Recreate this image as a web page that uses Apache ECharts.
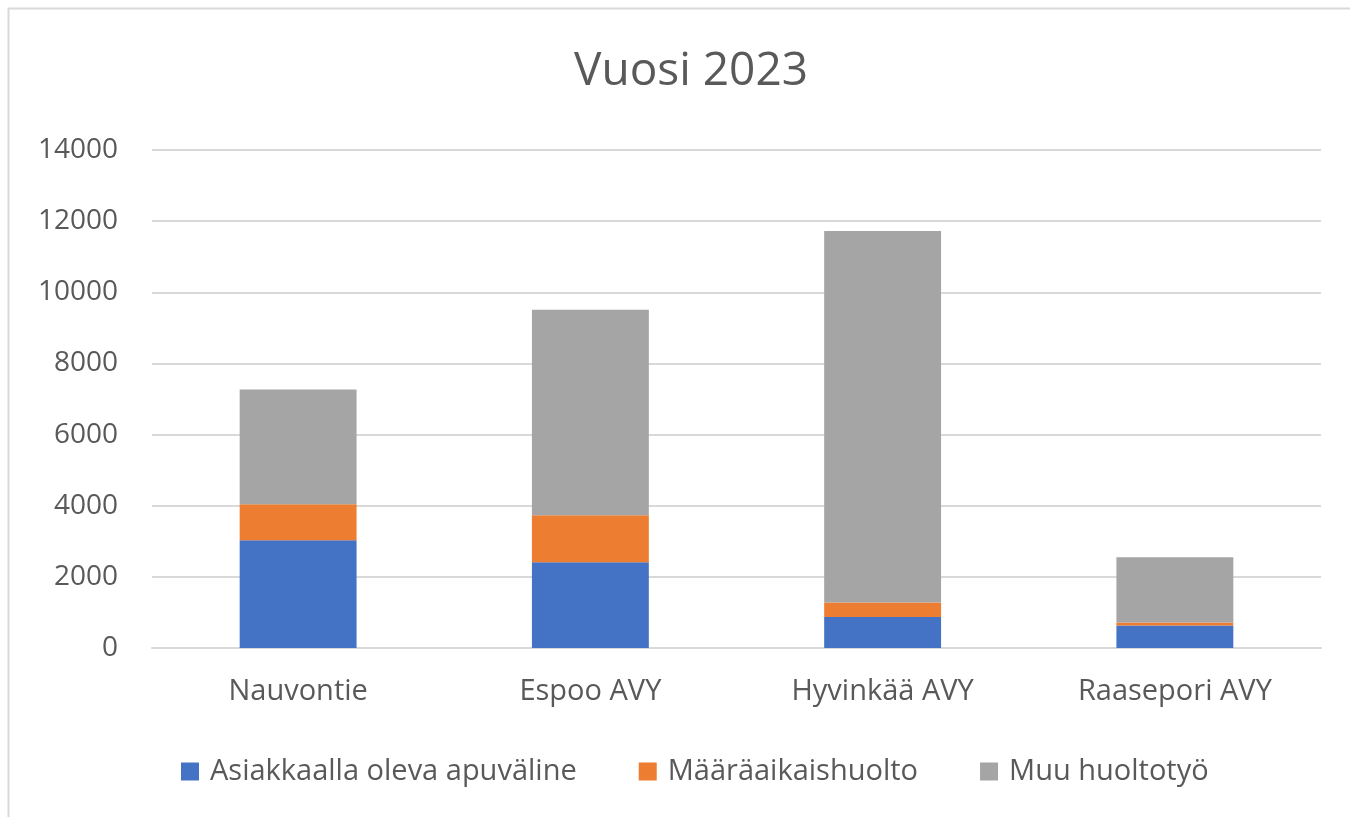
<!DOCTYPE html>
<html>
<head>
<meta charset="utf-8">
<title>Vuosi 2023</title>
<script src="https://cdn.jsdelivr.net/npm/echarts@6/dist/echarts.min.js"></script>
<style>
  html, body { margin: 0; padding: 0; background: #fff; }
  #chart { width: 1350px; height: 817px; }
</style>
</head>
<body>
<div id="chart"></div>
<script>
// data
var categories = ['Nauvontie', 'Espoo AVY', 'Hyvinkää AVY', 'Raasepori AVY'];
var asiakkaalla = [3030, 2410, 870, 630];
var maaraaikais = [1010, 1320, 410, 90];
var muuHuolto = [3230, 5780, 10440, 1830];
var yTicks = [0, 2000, 4000, 6000, 8000, 10000, 12000, 14000];

var textColor = '#595959';
var gridColor = '#D9D9D9';
var font = '"Open Sans", "Noto Sans", sans-serif';

var myChart = echarts.init(document.getElementById('chart'));

var option = {
    animation: false,
    backgroundColor: '#fff',
    textStyle: { fontFamily: font, color: textColor },
    graphic: [{
        // chart frame, only top and left edge visible
        type: 'rect',
        shape: { x: 8.5, y: 8.5, width: 1400, height: 900 },
        style: { fill: 'none', stroke: '#D9D9D9', lineWidth: 2 },
        silent: true,
        z: -1
    }],
    title: {
        text: 'Vuosi 2023',
        left: 686,
        textAlign: 'center',
        top: 44,
        textStyle: { fontFamily: font, fontSize: 46, fontWeight: 'normal', color: textColor }
    },
    legend: {
        left: 176,
        top: 752,
        itemWidth: 18,
        itemHeight: 18,
        itemGap: 62,
        icon: 'rect',
        textStyle: { fontFamily: font, fontSize: 29, color: textColor, padding: [0, 0, 0, 6] },
        data: ['Asiakkaalla oleva apuväline', 'Määräaikaishuolto', 'Muu huoltotyö']
    },
    grid: { left: 152, right: 29, top: 150, bottom: 169, containLabel: false },
    xAxis: {
        type: 'category',
        data: categories,
        axisLine: { lineStyle: { color: gridColor, width: 2 } },
        axisTick: { show: false },
        axisLabel: { fontFamily: font, fontSize: 29, color: textColor, margin: 29 }
    },
    yAxis: {
        type: 'value',
        min: yTicks[0],
        max: yTicks[yTicks.length - 1],
        interval: 2000,
        axisLine: { show: false },
        axisTick: { show: false },
        axisLabel: {
            fontFamily: font, fontSize: 28, color: textColor, margin: 34,
            formatter: function (v) { return String(v); }
        },
        splitLine: { lineStyle: { color: gridColor, width: 2 } }
    },
    series: [
        {
            name: 'Asiakkaalla oleva apuväline',
            type: 'bar',
            stack: 'total',
            barWidth: '40%',
            itemStyle: { color: '#4472C4' },
            data: asiakkaalla
        },
        {
            name: 'Määräaikaishuolto',
            type: 'bar',
            stack: 'total',
            itemStyle: { color: '#ED7D31' },
            data: maaraaikais
        },
        {
            name: 'Muu huoltotyö',
            type: 'bar',
            stack: 'total',
            itemStyle: { color: '#A5A5A5' },
            data: muuHuolto
        }
    ]
};

myChart.setOption(option);
</script>
</body>
</html>
